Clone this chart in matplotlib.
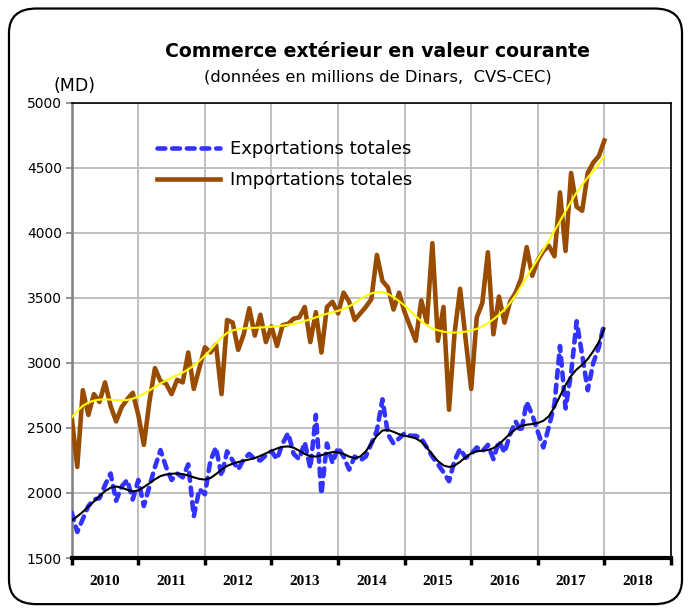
import numpy as np
import matplotlib
matplotlib.use('Agg')
import matplotlib.pyplot as plt
from matplotlib.patches import FancyBboxPatch

# monthly values, jan 2010 .. jan 2018 (MD)
imports = [2580, 2200, 2790, 2600, 2760, 2700, 2850, 2670, 2550, 2660, 2720, 2770,
           2600, 2370, 2700, 2960, 2860, 2840, 2760, 2870, 2850, 3080, 2800, 2960,
           3120, 3080, 3140, 2760, 3330, 3310, 3100, 3220, 3420, 3210, 3370, 3160,
           3280, 3130, 3290, 3300, 3340, 3350, 3430, 3160, 3390, 3080, 3430, 3470,
           3380, 3540, 3470, 3330, 3380, 3430, 3490, 3830, 3630, 3580, 3410, 3540,
           3390, 3280, 3170, 3480, 3310, 3920, 3170, 3430, 2640, 3230, 3570, 3180,
           2800, 3350, 3460, 3850, 3220, 3510, 3310, 3470, 3540, 3650, 3890, 3670,
           3790, 3860, 3900, 3820, 4310, 3860, 4460, 4200, 4170, 4460, 4540, 4590,
           4710]
imports_trend = [2580, 2630, 2670, 2695, 2710, 2718, 2720, 2718, 2714, 2712, 2715, 2725,
                 2742, 2762, 2788, 2815, 2842, 2865, 2885, 2905, 2925, 2950, 2980, 3015,
                 3055, 3100, 3150, 3195, 3230, 3250, 3260, 3265, 3268, 3270, 3272, 3275,
                 3278, 3282, 3287, 3293, 3300, 3310, 3322, 3335, 3350, 3365, 3378, 3390,
                 3400, 3415, 3435, 3460, 3490, 3515, 3535, 3545, 3545, 3530, 3505, 3475,
                 3440, 3400, 3360, 3320, 3290, 3265, 3250, 3240, 3235, 3233, 3235, 3240,
                 3250, 3262, 3280, 3305, 3335, 3370, 3410, 3460, 3520, 3590, 3660, 3730,
                 3800, 3870, 3940, 4015, 4090, 4165, 4240, 4310, 4370, 4425, 4475, 4530,
                 4590]
exports = [1850, 1700, 1800, 1900, 1950, 1960, 2060, 2150, 1940, 2050, 2100, 1950,
           2100, 1900, 2050, 2200, 2330, 2200, 2100, 2150, 2120, 2220, 1820, 2030,
           1990, 2250, 2350, 2130, 2320, 2250, 2180, 2260, 2300, 2260, 2250, 2290,
           2320, 2260, 2380, 2460, 2300, 2260, 2390, 2190, 2600, 1990, 2380, 2230,
           2350, 2280, 2180, 2280, 2250, 2280, 2380, 2480, 2720, 2450, 2380, 2420,
           2460, 2440, 2440, 2420, 2350, 2280, 2220, 2160, 2090, 2250, 2340, 2270,
           2300, 2350, 2320, 2370, 2260, 2400, 2310, 2450, 2550, 2470, 2700, 2600,
           2470, 2350, 2510, 2680, 3130, 2650, 2920, 3320, 3060, 2790, 3000, 3120,
           3310]
exports_trend = [1790, 1820, 1855, 1895, 1935, 1975, 2015, 2040, 2050, 2040, 2025, 2012,
                 2020, 2045, 2075, 2105, 2130, 2142, 2148, 2150, 2145, 2135, 2120, 2108,
                 2103, 2115, 2145, 2180, 2208, 2225, 2238, 2248, 2258, 2268, 2285, 2305,
                 2325, 2342, 2355, 2358, 2348, 2325, 2300, 2283, 2280, 2290, 2305, 2315,
                 2312, 2300, 2280, 2268, 2280, 2320, 2380, 2440, 2480, 2485, 2470, 2452,
                 2440, 2432, 2420, 2395, 2350, 2295, 2245, 2212, 2200, 2210, 2240, 2275,
                 2305, 2320, 2325, 2330, 2345, 2375, 2415, 2455, 2490, 2515, 2525, 2530,
                 2538, 2555, 2590, 2660, 2745, 2830, 2900, 2950, 2985, 3030, 3090, 3160,
                 3265]
years = list(range(2010, 2019))
t = 2010 + np.arange(len(imports)) / 12.0

fig = plt.figure(figsize=(6.91, 6.09), dpi=100)
fig.patches.append(FancyBboxPatch((0.013, 0.008), 0.974, 0.978,
                                  boxstyle='round,pad=0,rounding_size=0.04',
                                  transform=fig.transFigure, fill=False,
                                  edgecolor='black', linewidth=1.6))

ax = fig.add_axes([0.1038, 0.0837, 0.8672, 0.7476])
ax.plot(t, imports, color='#994C00', lw=3.3, solid_joinstyle='round',
        label='Importations totales', zorder=3)
ax.plot(t, imports_trend, color='#FFFF00', lw=1.5, zorder=4)
ax.plot(t, exports, color='#3333FF', lw=3.3, linestyle=(0, (1.7, 1.5)),
        dash_capstyle='round', label='Exportations totales', zorder=3)
ax.plot(t, exports_trend, color='black', lw=1.5, zorder=4)

ax.set_xlim(2010, 2019)
ax.set_ylim(1500, 5000)
ax.set_yticks(np.arange(1500, 5001, 500))
ax.set_xticks(np.arange(2010, 2020))
ax.set_xticklabels([])
ax.set_xticks([y + 0.5 for y in years], minor=True)
ax.set_xticklabels([str(y) for y in years], minor=True,
                   family='Liberation Serif', fontweight='bold', fontsize=11)
ax.tick_params(axis='x', which='major', direction='out', length=5, width=2.5, color='black')
ax.tick_params(axis='x', which='minor', length=0, pad=12)
ax.tick_params(axis='y', direction='out', length=4, width=1.2, color='#808080',
               labelsize=10, pad=3)
ax.grid(True, which='major', color='#C0C0C0', lw=1.4)
ax.set_axisbelow(True)
for s in ['top', 'right']:
    ax.spines[s].set_color('black')
    ax.spines[s].set_linewidth(1.2)
ax.spines['left'].set_color('#808080')
ax.spines['left'].set_linewidth(1.8)
ax.spines['bottom'].set_color('black')
ax.spines['bottom'].set_linewidth(3)

h, l = ax.get_legend_handles_labels()
ax.legend(h[::-1], l[::-1], loc='upper left', bbox_to_anchor=(0.115, 0.954),
          frameon=False, fontsize=13, handlelength=3.5, handletextpad=0.55,
          labelspacing=0.75)

fig.text(0.546, 0.915, 'Commerce extérieur en valeur courante', ha='center',
         va='center', fontsize=13.6, fontweight='bold')
fig.text(0.547, 0.874, '(données en millions de Dinars,  CVS-CEC)', ha='center',
         va='center', fontsize=11.8)
fig.text(0.108, 0.859, '(MD)', ha='center', va='center', fontsize=12.5)

fig.savefig('out.png', dpi=100)
